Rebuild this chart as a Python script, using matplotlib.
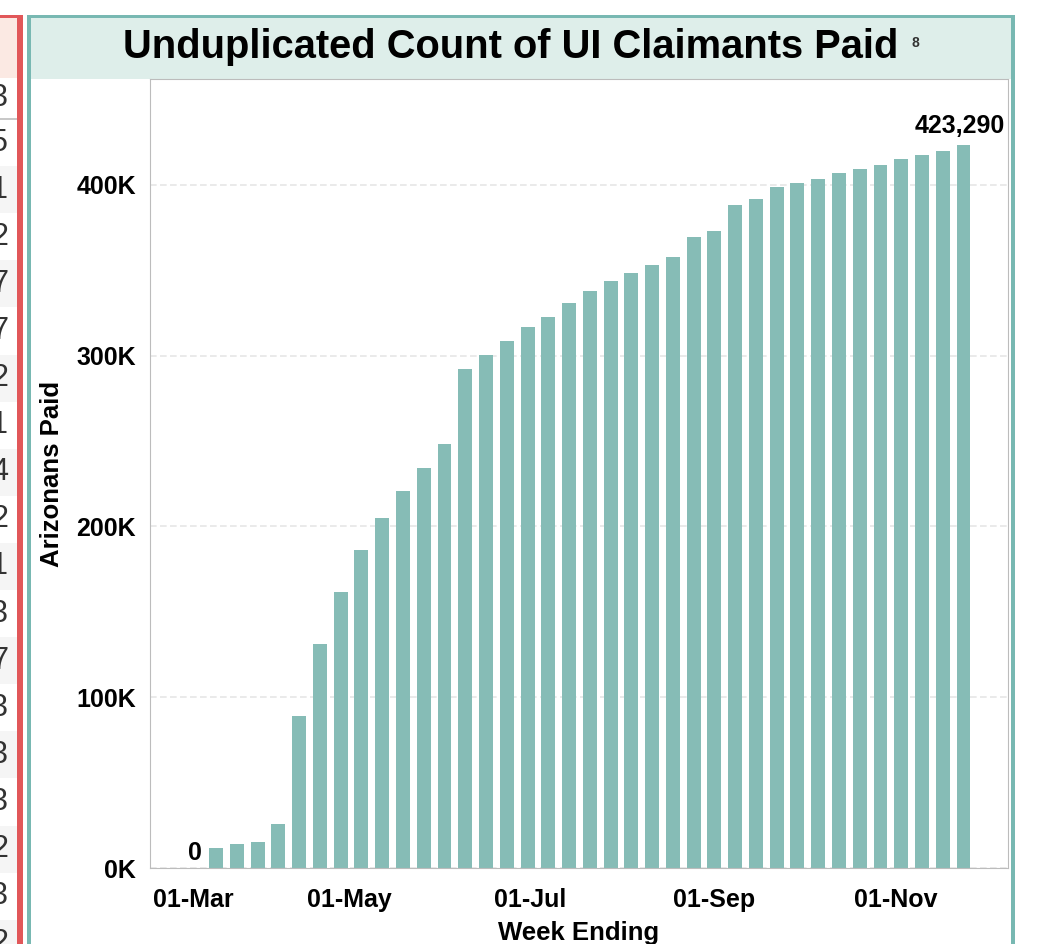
import matplotlib
matplotlib.use('Agg')
import matplotlib.pyplot as plt
import matplotlib.dates as mdates
import matplotlib.transforms as mtransforms
from matplotlib.patches import Rectangle
from matplotlib.ticker import FuncFormatter
import pandas as pd

plt.rcParams['font.family'] = ['Liberation Sans', 'DejaVu Sans']

W, H = 1037, 944

# weekly cumulative count of UI claimants paid
week_ending = pd.date_range('2020-03-10', periods=38, freq='7D')
claimants_paid = [
    0, 11700, 14000, 15200, 25700, 88900, 131000, 161400, 186000, 204700,
    221000, 234000, 248000, 292400, 300600, 308800, 317000, 322800, 331000, 338000,
    343900, 348500, 353200, 357900, 369600, 373100, 388300, 391800, 398800, 401200,
    403500, 407000, 409400, 411700, 415200, 417500, 419900, 423290,
]
tick_dates = pd.to_datetime(['2020-03-01', '2020-05-01', '2020-07-01', '2020-09-01', '2020-11-01'])
y_ticks = [0, 100000, 200000, 300000, 400000]

# neighbouring dashboard table, only its last digit column is visible
side_table_digits = ['3', '5', '1', '2', '7', '7', '2', '1', '4', '2',
                     '1', '3', '7', '3', '3', '3', '2', '3', '2']

BAR = '#86bcb6'
TEAL = '#78b8b2'
TITLE_BG = '#deeeea'
RED = '#e15759'


def px_rect(fig, x0, y0, x1, y1, color, z=-2):
    # rectangle given in pixel coords (origin top left)
    r = Rectangle((x0 / W, 1 - y1 / H), (x1 - x0) / W, (y1 - y0) / H,
                  transform=fig.transFigure, facecolor=color, edgecolor='none', zorder=z)
    fig.add_artist(r)


fig = plt.figure(figsize=(W / 100, H / 100), dpi=100)
fig.patch.set_facecolor('white')

# --- left table fragment ---
px_rect(fig, 0, 18, 17, 78, '#fbe9e3')
px_rect(fig, 0, 78, 17, 119, 'white')
row_h = 47.1
for i, d in enumerate(side_table_digits):
    if i == 0:
        yc = 98.5
    else:
        top = 119 + (i - 1) * row_h
        if i % 2 == 0:
            px_rect(fig, 0, top, 17, top + row_h, '#f5f5f5')
        yc = top + row_h / 2
    fig.text(8 / W, 1 - yc / H, d, ha='right', va='center', fontsize=22, color='#333333')
px_rect(fig, 0, 118.5, 17, 119.5, '#c8c8c8', z=-1)
px_rect(fig, 0, 15, 23, 18, RED, z=-1)
px_rect(fig, 17, 15, 23, H + 2, RED, z=-1)

# --- panel frame and title band ---
px_rect(fig, 31, 18, 1011, 79, TITLE_BG)
px_rect(fig, 27, 15, 1015, 18, TEAL, z=-1)
px_rect(fig, 27, 15, 31, H + 2, TEAL, z=-1)
px_rect(fig, 1011, 15, 1015, H + 2, TEAL, z=-1)

fig.text(510.5 / W, 1 - 58.5 / H, 'Unduplicated Count of UI Claimants Paid',
         ha='center', va='baseline', fontsize=28.7, fontweight='bold', color='black')
fig.text(915 / W, 1 - 43 / H, '8', ha='center', va='center', fontsize=10,
         fontweight='bold', color='#333333')

# --- chart ---
ax = fig.add_axes([150 / W, 1 - 868 / H, 858 / W, 789 / H])
ax.set_facecolor('white')

x = mdates.date2num(week_ending)
ax.bar(x, claimants_paid, width=4.7, color=BAR, zorder=2)

x_mar = mdates.date2num(pd.Timestamp('2020-03-01'))
ax.set_xlim(x_mar - 6.3, x_mar + 283.0)
ax.set_ylim(0, 462000)

ax.set_xticks(mdates.date2num(tick_dates))
ax.xaxis.set_major_formatter(mdates.DateFormatter('%d-%b'))
ax.set_yticks(y_ticks)
ax.yaxis.set_major_formatter(FuncFormatter(lambda v, p: f'{v / 1000:.0f}K'))
ax.tick_params(length=0, labelsize=18)
ax.tick_params(axis='x', pad=14.5)
ax.tick_params(axis='y', pad=10)
for lbl in ax.get_xticklabels() + ax.get_yticklabels():
    lbl.set_fontweight('bold')

# Tableau pushes the first date label inside the axis
first = ax.get_xticklabels()[0]
first.set_horizontalalignment('left')
first.set_transform(first.get_transform() + mtransforms.ScaledTranslation(-16 / 100, 0, fig.dpi_scale_trans))

ax.grid(axis='y', color='#e6e6e6', linestyle=(0, (4, 2)), linewidth=1.2)
ax.set_axisbelow(True)
for s in ax.spines.values():
    s.set_color('#bcbcbc')
    s.set_linewidth(0.8)

ax.set_ylabel('Arizonans Paid', fontsize=18.5, fontweight='bold', va='center')
ax.yaxis.set_label_coords(-0.1142, 0.5)
ax.set_xlabel('Week Ending', fontsize=18.5, fontweight='bold', va='top')
ax.xaxis.set_label_coords(0.5, -0.067)

ax.annotate(f'{claimants_paid[0]:,}', (x[0], claimants_paid[0]), xytext=(0, 8 * 0.72),
            textcoords='offset points', ha='center', va='baseline', fontsize=18, fontweight='bold')
ax.annotate(f'{claimants_paid[-1]:,}', (x[-1], claimants_paid[-1]), xytext=(-3, 12 * 0.72),
            textcoords='offset points', ha='center', va='baseline', fontsize=18, fontweight='bold')

fig.savefig('out.png', dpi=100)
